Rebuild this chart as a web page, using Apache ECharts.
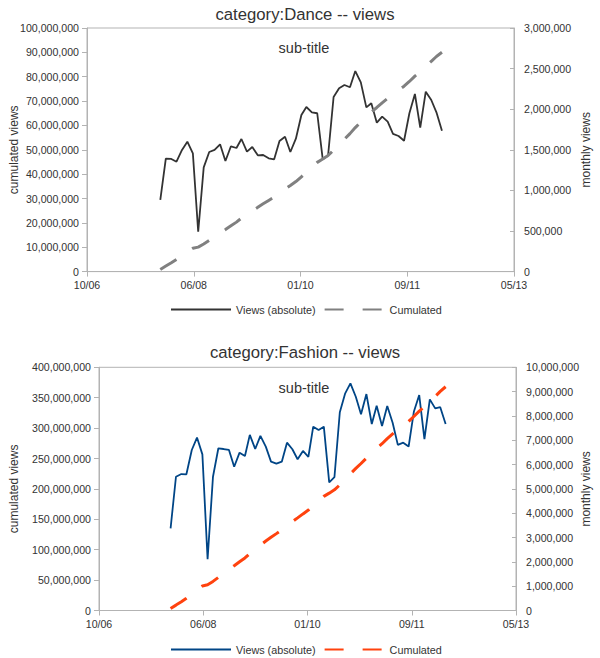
<!DOCTYPE html>
<html><head><meta charset="utf-8">
<script src="https://cdn.jsdelivr.net/npm/echarts@6/dist/echarts.min.js"></script>
<style>
html,body{margin:0;padding:0;background:#fff;}
#c1{position:absolute;left:0;top:0;width:600px;height:330px;}
#c2{position:absolute;left:0;top:330px;width:600px;height:328px;}
</style>
</head><body><div id="c1"></div><div id="c2"></div>
<script>
// ---------- data ----------
const months = ['2007-12',
 '2008-01','2008-02','2008-03','2008-04','2008-05','2008-06','2008-07','2008-08','2008-09','2008-10','2008-11','2008-12',
 '2009-01','2009-02','2009-03','2009-04','2009-05','2009-06','2009-07','2009-08','2009-09','2009-10','2009-11','2009-12',
 '2010-01','2010-02','2010-03','2010-04','2010-05','2010-06','2010-07','2010-08','2010-09','2010-10','2010-11','2010-12',
 '2011-01','2011-02','2011-03','2011-04','2011-05','2011-06','2011-07','2011-08','2011-09','2011-10','2011-11','2011-12',
 '2012-01','2012-02','2012-03','2012-04'];
const xAxisOrigin = '2006-10-15';
const xTickStepDays = 600;
const xTickLabels = ['10/06','06/08','01/10','09/11','05/13'];

const danceMonthly = [882000,1390000,1387000,1353000,1498000,1600000,1457000,491000,1284000,1473000,
 1498000,1568000,1362000,1543000,1522000,1633000,1477000,1534000,1432000,1436000,
 1395000,1383000,1608000,1661000,1473000,1637000,1929000,2027000,1962000,1950000,
 1383000,1430000,2150000,2257000,2298000,2270000,2470000,2331000,2023000,2073000,
 1834000,1908000,1846000,1695000,1670000,1612000,1950000,2187000,1772000,2216000,2113000,1962000,1735000];
const danceCumulated = [880000,2270000,3660000,5010000,6510000,8110000,9570000,10060000,11340000,12820000,
 14310000,15880000,17240000,18790000,20310000,21940000,23420000,24950000,26390000,27820000,
 29220000,30600000,32210000,33870000,35340000,36980000,38910000,40930000,42900000,44850000,
 46230000,47660000,49810000,52070000,54370000,56640000,59110000,61440000,63460000,65530000,
 67370000,69270000,71120000,72810000,74480000,76100000,78050000,80230000,82010000,84220000,86340000,88300000,90030000];

const fashionMonthly = [3380000,5500000,5610000,5600000,6600000,7110000,6420000,2110000,5500000,6670000,
 6640000,6600000,5910000,6490000,6350000,7220000,6640000,7180000,6740000,6120000,
 6040000,6120000,6900000,6630000,6220000,6560000,6320000,7560000,7420000,7560000,
 5270000,5480000,8150000,8930000,9340000,8790000,8070000,8900000,7670000,8420000,
 7590000,8410000,7720000,6810000,6900000,6740000,8170000,8860000,7050000,8680000,8310000,8360000,7670000];
const fashionCumulated = [3380000,8880000,14490000,20090000,26690000,33800000,40220000,42330000,47830000,54500000,
 61140000,67740000,73650000,80140000,86490000,93710000,100350000,107530000,114270000,120390000,
 126430000,132550000,139450000,146080000,152300000,158860000,165180000,172740000,180160000,187720000,
 192990000,198470000,206620000,215550000,224890000,233680000,241750000,250650000,258320000,266740000,
 274330000,282740000,290460000,297270000,304170000,310910000,319080000,327940000,334990000,343670000,351980000,360340000,368010000];

const seriesNames = ['Views (absolute)', 'Cumulated'];

// ---------- helpers ----------
const FONT = 'Liberation Sans, Arial, sans-serif';
const AXIS_COLOR = '#b3b3b3';
const TEXT_COLOR = '#333333';
function fmt(v){ return String(Math.round(v)).replace(/\B(?=(\d{3})+(?!\d))/g, ','); }
const originMs = Date.parse(xAxisOrigin + 'T00:00:00Z');
function dayOf(m){ return (Date.UTC(+m.slice(0,4), +m.slice(5,7) - 1, 1) - originMs) / 86400000; }
function pairs(vals){ return months.map((m,i) => [dayOf(m), vals[i]]); }

function makeOption(c){
  return {
    animation: false,
    backgroundColor: '#ffffff',
    textStyle: { fontFamily: FONT },
    graphic: [
      { type:'text', x: 305, y: c.titleY, style:{ text: c.title, fill: TEXT_COLOR, font: '16.7px ' + FONT, align:'center', verticalAlign:'middle' } },
      { type:'text', x: 304, y: c.subY, style:{ text: 'sub-title', fill: TEXT_COLOR, font: '14.5px ' + FONT, align:'center', verticalAlign:'middle' } }
    ],
    grid: { left: c.gridLeft, top: c.gridTop, width: c.gridWidth, height: c.gridHeight, show: true, borderColor: AXIS_COLOR, borderWidth: 1, backgroundColor: 'transparent', containLabel: false },
    legend: {
      left: 170, top: c.legendTop, padding: 0, itemWidth: 60, itemHeight: 10, itemGap: 8,
      itemStyle: { opacity: 0, borderWidth: 0 },
      textStyle: { fontSize: 10.8, color: TEXT_COLOR, fontFamily: FONT },
      data: seriesNames
    },
    xAxis: {
      type: 'value', min: 0, max: xTickStepDays * (xTickLabels.length - 1), interval: xTickStepDays,
      axisLine: { show: true, onZero: false, lineStyle: { color: AXIS_COLOR } },
      axisTick: { show: true, length: 5, lineStyle: { color: AXIS_COLOR } },
      splitLine: { show: false },
      axisLabel: { margin: 8, fontSize: 10.6, color: TEXT_COLOR, fontFamily: FONT, showMinLabel: true, showMaxLabel: true,
        formatter: v => xTickLabels[Math.round(v / xTickStepDays)] || '' }
    },
    yAxis: [
      {
        type: 'value', position: 'left', min: 0, max: c.leftMax, interval: c.leftStep,
        name: 'cumulated views', nameLocation: 'middle', nameRotate: 90, nameGap: c.leftNameGap, nameMoveOverlap: false,
        nameTextStyle: { fontSize: 12, color: TEXT_COLOR, fontFamily: FONT },
        axisLine: { show: true, onZero: false, lineStyle: { color: AXIS_COLOR } },
        axisTick: { show: true, length: 5, lineStyle: { color: AXIS_COLOR } },
        splitLine: { show: false },
        axisLabel: { margin: 8, fontSize: 10.6, color: TEXT_COLOR, fontFamily: FONT, formatter: fmt }
      },
      {
        type: 'value', position: 'right', min: 0, max: c.rightMax, interval: c.rightStep,
        name: 'monthly views', nameLocation: 'middle', nameRotate: 90, nameGap: c.rightNameGap, nameMoveOverlap: false,
        nameTextStyle: { fontSize: 12, color: TEXT_COLOR, fontFamily: FONT },
        axisLine: { show: true, onZero: false, lineStyle: { color: AXIS_COLOR } },
        axisTick: { show: true, inside: true, length: 4, lineStyle: { color: AXIS_COLOR } },
        splitLine: { show: false },
        axisLabel: { margin: 10, fontSize: 10.6, color: TEXT_COLOR, fontFamily: FONT, formatter: fmt }
      }
    ],
    series: [
      { name: seriesNames[0], type: 'line', yAxisIndex: 1, data: pairs(c.monthly), symbol: 'none', showSymbol: false,
        lineStyle: { color: c.viewsColor, width: 1.8 }, itemStyle: { color: c.viewsColor } },
      { name: seriesNames[1], type: 'line', yAxisIndex: 0, data: pairs(c.cumulated), symbol: 'none', showSymbol: false,
        lineStyle: { color: c.cumColor, width: 3, type: [19, 19], cap: 'butt' }, itemStyle: { color: c.cumColor } }
    ]
  };
}

const c1 = echarts.init(document.getElementById('c1'), null, { renderer: 'svg' });
c1.setOption(makeOption({
  title: 'category:Dance -- views', titleY: 14, subY: 48,
  gridLeft: 87, gridTop: 28, gridWidth: 436, gridHeight: 243.6,
  legendTop: 304,
  leftMax: 100000000, leftStep: 10000000, rightMax: 3000000, rightStep: 500000,
  leftNameGap: 67, rightNameGap: 66,
  monthly: danceMonthly, cumulated: danceCumulated,
  viewsColor: '#333333', cumColor: '#808080'
}));

const c2 = echarts.init(document.getElementById('c2'), null, { renderer: 'svg' });
c2.setOption(makeOption({
  title: 'category:Fashion -- views', titleY: 22, subY: 58,
  gridLeft: 99, gridTop: 37.3, gridWidth: 425, gridHeight: 243.2,
  legendTop: 314,
  leftMax: 400000000, leftStep: 50000000, rightMax: 10000000, rightStep: 1000000,
  leftNameGap: 79, rightNameGap: 64,
  monthly: fashionMonthly, cumulated: fashionCumulated,
  viewsColor: '#004586', cumColor: '#ff420e'
}));
</script>
</body></html>
